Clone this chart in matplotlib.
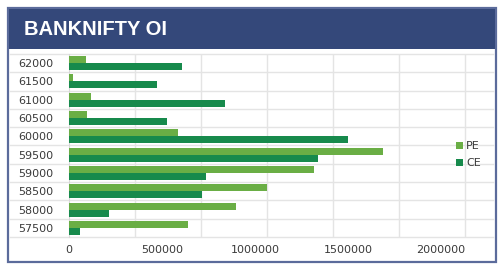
import matplotlib
matplotlib.use('Agg')
import matplotlib.pyplot as plt
from matplotlib.patches import Rectangle
from matplotlib.ticker import MultipleLocator
import numpy as np

# strikes, top to bottom as drawn
strikes = ['62000', '61500', '61000', '60500', '60000',
           '59500', '59000', '58500', '58000', '57500']
pe_oi = [90000, 20000, 118000, 97000, 586000,
         1688000, 1317000, 1065000, 898000, 640000]
ce_oi = [608000, 473000, 839000, 527000, 1500000,
         1339000, 737000, 715000, 215000, 59000]
x_ticks = [0, 500000, 1000000, 1500000, 2000000]

PE_COLOR = '#6aae45'
CE_COLOR = '#178a4c'
HEADER = '#34487a'
GRID = '#e4e4e4'

W, H = 500, 266
fig = plt.figure(figsize=(W / 100, H / 100), dpi=100)

def px(x0, y0, x1, y1):
    # pixel box (top-left origin) -> figure fraction rect
    return [x0 / W, 1 - y1 / H, (x1 - x0) / W, (y1 - y0) / H]

# outer frame and header band
fig.patches.append(Rectangle((8 / W, 1 - 262 / H), 488 / W, 254 / H,
                             transform=fig.transFigure, fill=False,
                             edgecolor='#5b6b9b', lw=1.6, zorder=0))
fig.patches.append(Rectangle((9 / W, 1 - 49 / H), 486 / W, 40 / H,
                             transform=fig.transFigure, facecolor=HEADER,
                             edgecolor='none', zorder=1))
fig.text(24 / W, 1 - 29.5 / H, 'BANKNIFTY OI', color='white',
         family='Liberation Sans', weight='bold', fontsize=14.5,
         va='center', ha='left')

ax = fig.add_axes(px(69, 54, 493, 237))
y = np.arange(len(strikes))
h = 0.38
ax.barh(y - h / 2, pe_oi, height=h, color=PE_COLOR, label='PE', zorder=3)
ax.barh(y + h / 2, ce_oi, height=h, color=CE_COLOR, label='CE', zorder=3)

ax.set_ylim(len(strikes) - 0.5, -0.5)
ax.set_xlim(0, 2280000)
ax.set_yticks(y)
ax.set_yticklabels(strikes)
ax.set_xticks(x_ticks)
ax.set_xticklabels([str(v) for v in x_ticks])
ax.tick_params(axis='both', which='both', length=0, labelsize=8,
               labelcolor='#3a3a3a')
ax.tick_params(axis='y', pad=11)
ax.tick_params(axis='x', pad=6)

# light cell-like grid
ax.xaxis.set_minor_locator(MultipleLocator(355000))
ax.grid(which='minor', axis='x', color=GRID, lw=1, zorder=0)
for b in np.arange(-0.5, len(strikes), 1.0):
    ax.plot([-0.14, 1], [b, b], transform=ax.get_yaxis_transform(),
            color=GRID, lw=1, clip_on=False, zorder=0)

for s in ['top', 'right', 'bottom']:
    ax.spines[s].set_visible(False)
ax.spines['left'].set_color('#d8d8d8')

leg = ax.legend(loc='center left', bbox_to_anchor=(0.89, 0.45), frameon=False,
                fontsize=8, handlelength=0.6, handleheight=0.6,
                handletextpad=0.3, labelspacing=0.6)
for t in leg.get_texts():
    t.set_color('#3a3a3a')

fig.savefig('out.png', dpi=100)
